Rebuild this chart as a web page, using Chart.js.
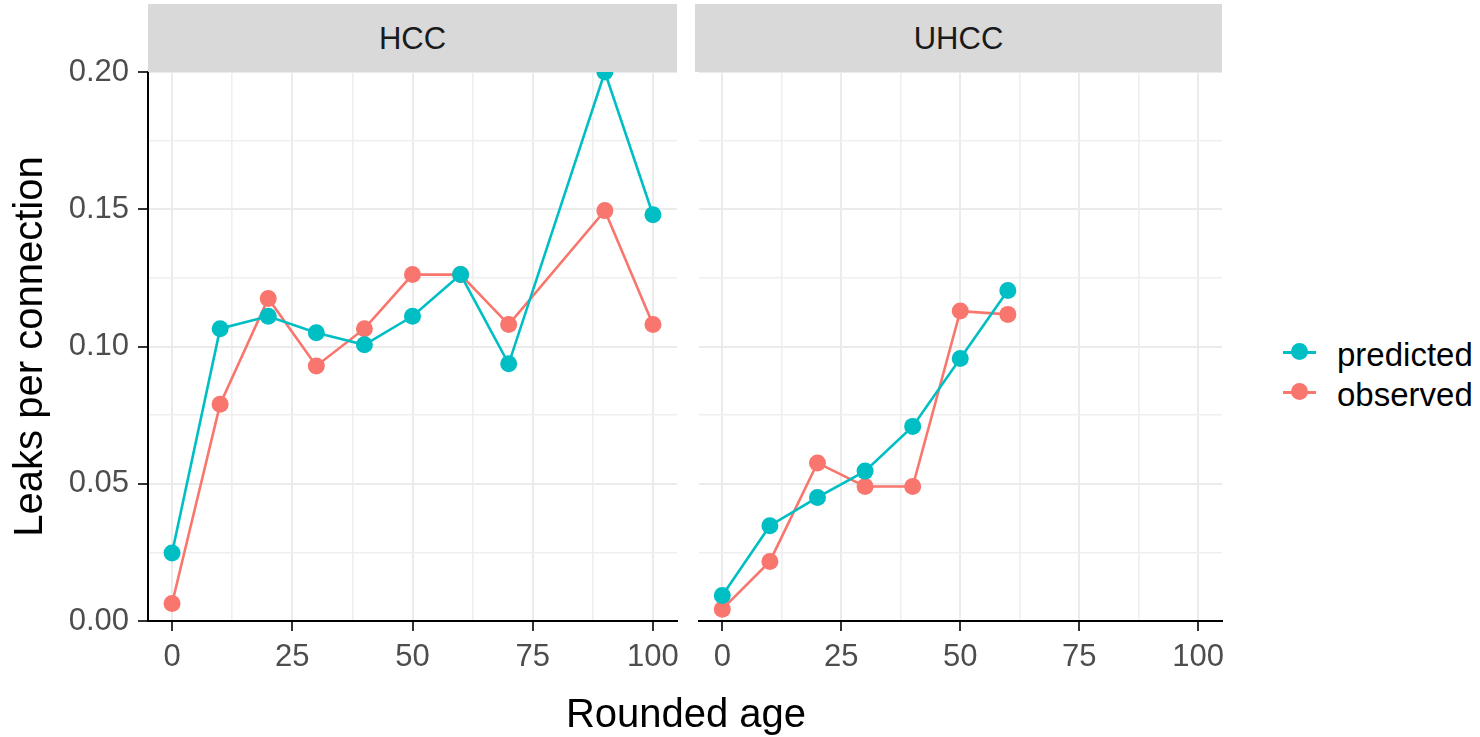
<!DOCTYPE html>
<html>
<head>
<meta charset="utf-8">
<title>Leaks per connection by rounded age</title>
<script src="https://cdn.jsdelivr.net/npm/chart.js@4.4.1/dist/chart.umd.min.js"></script>
<style>
    body { margin: 0; background: #fff; }
    #wrap { position: relative; width: 1480px; height: 737px; overflow: hidden;
            font-family: 'Liberation Sans', Arial, sans-serif; }
    canvas { position: absolute; top: 0; }
    #hccChart { left: 0; }
    #uhccChart { left: 690px; }
    .strip { position: absolute; top: 4px; height: 68px; background: #D9D9D9;
             color: #1A1A1A; font-size: 31px; line-height: 70px; text-align: center; z-index: 2; }
    #xTitle { position: absolute; left: 0; width: 1372px; top: 689px; height: 48px;
              line-height: 48px; font-size: 40px; color: #000; text-align: center; }
    .legend-row { position: absolute; left: 1280px; height: 40px; width: 200px; }
    .legend-line { position: absolute; left: 3px; width: 33px; height: 2.5px; top: 19px; }
    .legend-dot { position: absolute; left: 11px; width: 17px; height: 17px; top: 11px; border-radius: 50%; }
    .legend-label { position: absolute; left: 57px; top: 3px; font-size: 33px; line-height: 40px; color: #000; }
</style>
</head>
<body>
<div id="wrap">
    <canvas id="hccChart" width="700" height="737"></canvas>
    <canvas id="uhccChart" width="560" height="737"></canvas>
    <div class="strip" style="left:148px; width:529px;">HCC</div>
    <div class="strip" style="left:695px; width:527px;">UHCC</div>
    <div id="xTitle">Rounded age</div>
    <div id="legend"></div>
</div>
<script>
// Data
const hccAges = [0, 10, 20, 30, 40, 50, 60, 70, 90, 100];
const hccPredicted = [0.0248, 0.1065, 0.1110, 0.1050, 0.1006, 0.1110, 0.1262, 0.0937, 0.2000, 0.1480];
const hccObserved = [0.0064, 0.0790, 0.1175, 0.0929, 0.1065, 0.1262, 0.1262, 0.1080, 0.1495, 0.1080];

const uhccAges = [0, 10, 20, 30, 40, 50, 60];
const uhccPredicted = [0.0093, 0.0347, 0.0450, 0.0546, 0.0709, 0.0956, 0.1204];
const uhccObserved = [0.0043, 0.0217, 0.0576, 0.0490, 0.0490, 0.1129, 0.1117];

const seriesNames = ['predicted', 'observed'];
const seriesColors = ['#00BFC4', '#F8766D'];

const xMajorTicks = [0, 25, 50, 75, 100];
const xMinorTicks = [12.5, 37.5, 62.5, 87.5];
const yMajorTicks = [0, 0.05, 0.10, 0.15, 0.20];
const yMinorTicks = [0.025, 0.075, 0.125, 0.175];

Chart.defaults.font.family = "'Liberation Sans', Arial, sans-serif";

// Helpers
function toPoints(xs, ys) {
    return xs.map((x, i) => ({ x: x, y: ys[i] }));
}

function allTicks(major, minor) {
    return major.concat(minor).sort((a, b) => a - b);
}

function isMajorIndex(ctx) {
    return ctx.index % 2 === 0;
}

function makeDataset(label, color, xs, ys) {
    return {
        label: label,
        data: toPoints(xs, ys),
        borderColor: color,
        backgroundColor: color,
        borderWidth: 2.6,
        pointRadius: 8.5,
        pointHoverRadius: 8.5,
        pointBorderWidth: 0,
        pointBackgroundColor: color,
        tension: 0
    };
}

function makeScales(isLeft) {
    return {
        x: {
            type: 'linear',
            min: -5,
            max: 105,
            afterBuildTicks: function(scale) {
                scale.ticks = allTicks(xMajorTicks, xMinorTicks).map(v => ({ value: v }));
            },
            afterFit: function(scale) {
                scale.height = 116;
            },
            ticks: {
                autoSkip: false,
                maxRotation: 0,
                padding: 8,
                color: '#4D4D4D',
                font: { size: 31 },
                callback: function(value) {
                    return xMajorTicks.includes(value) ? String(value) : '';
                }
            },
            grid: {
                color: ctx => isMajorIndex(ctx) ? '#EBEBEB' : '#EFEFEF',
                lineWidth: ctx => isMajorIndex(ctx) ? 2 : 1.6,
                tickColor: ctx => isMajorIndex(ctx) ? '#333333' : 'rgba(0,0,0,0)',
                tickLength: 10,
                tickWidth: 2
            },
            border: { display: true, color: '#000', width: 2 }
        },
        y: {
            type: 'linear',
            min: 0,
            max: 0.2,
            afterBuildTicks: function(scale) {
                scale.ticks = allTicks(yMajorTicks, yMinorTicks).map(v => ({ value: v }));
            },
            afterFit: function(scale) {
                scale.width = isLeft ? 148 : 0;
            },
            title: {
                display: isLeft,
                text: 'Leaks per connection',
                color: '#000',
                font: { size: 40 },
                padding: { top: 7, bottom: 0 }
            },
            ticks: {
                display: isLeft,
                autoSkip: false,
                padding: 9,
                color: '#4D4D4D',
                font: { size: 31 },
                callback: function(value, index) {
                    return index % 2 === 0 ? value.toFixed(2) : '';
                }
            },
            grid: {
                color: ctx => isMajorIndex(ctx) ? '#EBEBEB' : '#EFEFEF',
                lineWidth: ctx => isMajorIndex(ctx) ? 2 : 1.6,
                drawTicks: isLeft,
                tickColor: ctx => isMajorIndex(ctx) ? '#333333' : 'rgba(0,0,0,0)',
                tickLength: 10,
                tickWidth: 2
            },
            border: { display: isLeft, color: '#000', width: 2 }
        }
    };
}

function makePanel(canvasId, ages, predicted, observed, isLeft, padding) {
    const ctx = document.getElementById(canvasId).getContext('2d');
    return new Chart(ctx, {
        type: 'line',
        data: {
            datasets: [
                makeDataset(seriesNames[0], seriesColors[0], ages, predicted),
                makeDataset(seriesNames[1], seriesColors[1], ages, observed)
            ]
        },
        options: {
            responsive: false,
            animation: false,
            layout: { padding: padding },
            plugins: {
                legend: { display: false },
                tooltip: { enabled: false }
            },
            scales: makeScales(isLeft)
        }
    });
}

// Build legend on the right
function buildLegend() {
    const legend = document.getElementById('legend');
    const centers = [352, 392];
    seriesNames.forEach((name, i) => {
        const row = document.createElement('div');
        row.className = 'legend-row';
        row.style.top = (centers[i] - 20) + 'px';
        row.innerHTML = `
            <div class="legend-line" style="background:${seriesColors[i]}"></div>
            <div class="legend-dot" style="background:${seriesColors[i]}"></div>
            <div class="legend-label">${name}</div>
        `;
        legend.appendChild(row);
    });
}

makePanel('hccChart', hccAges, hccPredicted, hccObserved, true,
    { left: 0, top: 72, right: 23, bottom: 0 });
makePanel('uhccChart', uhccAges, uhccPredicted, uhccObserved, false,
    { left: 5, top: 72, right: 28, bottom: 0 });
buildLegend();
</script>
</body>
</html>
